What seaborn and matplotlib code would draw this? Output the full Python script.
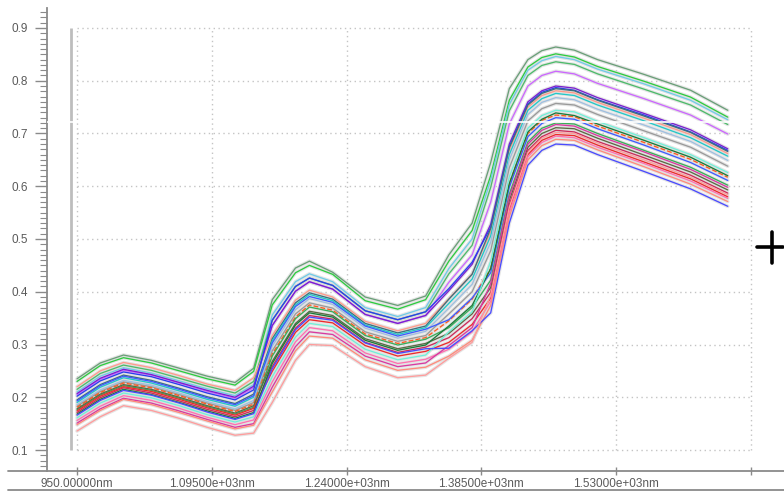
import matplotlib
matplotlib.use("Agg")
import matplotlib.pyplot as plt
import seaborn as sns
import pandas as pd
from matplotlib.lines import Line2D
from matplotlib.ticker import MultipleLocator, FixedLocator, FixedFormatter

# ---------------- data ----------------
wavelengths = [950, 975, 1000, 1030, 1060, 1090, 1120, 1140, 1160, 1185, 1200, 1225, 1260,
               1295, 1325, 1350, 1375, 1395, 1415, 1435, 1450, 1465, 1485, 1510, 1560, 1610, 1650]

s01 = [0.235, 0.265, 0.280, 0.270, 0.255, 0.240, 0.228, 0.255, 0.385, 0.445, 0.458, 0.437, 0.390, 0.374, 0.392, 0.470, 0.530, 0.645, 0.785, 0.840, 0.857, 0.864, 0.858, 0.840, 0.812, 0.782, 0.744]
s02 = [0.230, 0.260, 0.275, 0.265, 0.250, 0.235, 0.223, 0.249, 0.375, 0.436, 0.450, 0.433, 0.383, 0.367, 0.385, 0.458, 0.516, 0.620, 0.763, 0.826, 0.844, 0.851, 0.845, 0.827, 0.799, 0.769, 0.731]
s03 = [0.210, 0.240, 0.256, 0.246, 0.231, 0.216, 0.203, 0.224, 0.356, 0.419, 0.434, 0.419, 0.370, 0.353, 0.370, 0.444, 0.500, 0.612, 0.755, 0.820, 0.838, 0.846, 0.840, 0.822, 0.794, 0.763, 0.726]
s04 = [0.215, 0.245, 0.261, 0.251, 0.236, 0.221, 0.208, 0.230, 0.346, 0.410, 0.426, 0.412, 0.364, 0.347, 0.362, 0.434, 0.488, 0.598, 0.743, 0.810, 0.829, 0.836, 0.831, 0.813, 0.784, 0.754, 0.717]
s05 = [0.205, 0.234, 0.251, 0.242, 0.227, 0.211, 0.198, 0.218, 0.336, 0.401, 0.419, 0.405, 0.357, 0.340, 0.355, 0.418, 0.470, 0.570, 0.718, 0.790, 0.810, 0.818, 0.813, 0.795, 0.766, 0.735, 0.699]
s06 = [0.220, 0.250, 0.266, 0.256, 0.241, 0.225, 0.213, 0.237, 0.317, 0.384, 0.403, 0.390, 0.344, 0.326, 0.340, 0.387, 0.434, 0.514, 0.668, 0.750, 0.772, 0.781, 0.777, 0.759, 0.729, 0.698, 0.662]
s07 = [0.207, 0.236, 0.253, 0.243, 0.228, 0.213, 0.200, 0.221, 0.336, 0.401, 0.419, 0.405, 0.357, 0.340, 0.355, 0.402, 0.452, 0.528, 0.680, 0.760, 0.781, 0.790, 0.786, 0.768, 0.738, 0.707, 0.671]
s08 = [0.202, 0.231, 0.248, 0.239, 0.224, 0.208, 0.195, 0.214, 0.346, 0.410, 0.426, 0.412, 0.364, 0.347, 0.362, 0.406, 0.456, 0.522, 0.675, 0.756, 0.778, 0.787, 0.782, 0.764, 0.735, 0.703, 0.668]
s09 = [0.195, 0.224, 0.242, 0.232, 0.217, 0.201, 0.188, 0.206, 0.311, 0.379, 0.398, 0.386, 0.340, 0.322, 0.335, 0.386, 0.433, 0.520, 0.673, 0.754, 0.776, 0.785, 0.781, 0.763, 0.733, 0.702, 0.666]
s10 = [0.190, 0.219, 0.237, 0.227, 0.212, 0.196, 0.183, 0.200, 0.307, 0.375, 0.395, 0.383, 0.337, 0.319, 0.332, 0.378, 0.424, 0.506, 0.660, 0.744, 0.766, 0.776, 0.772, 0.754, 0.724, 0.692, 0.657]
s11 = [0.186, 0.214, 0.232, 0.223, 0.208, 0.192, 0.178, 0.194, 0.297, 0.366, 0.387, 0.376, 0.331, 0.312, 0.325, 0.369, 0.414, 0.494, 0.650, 0.736, 0.759, 0.768, 0.764, 0.746, 0.716, 0.685, 0.649]
s12 = [0.183, 0.211, 0.229, 0.220, 0.205, 0.189, 0.175, 0.190, 0.288, 0.358, 0.379, 0.369, 0.324, 0.306, 0.317, 0.358, 0.400, 0.478, 0.635, 0.724, 0.747, 0.757, 0.754, 0.736, 0.705, 0.674, 0.638]
s13 = [0.181, 0.209, 0.227, 0.218, 0.203, 0.187, 0.173, 0.187, 0.282, 0.352, 0.375, 0.365, 0.320, 0.302, 0.313, 0.345, 0.386, 0.444, 0.605, 0.700, 0.725, 0.735, 0.732, 0.714, 0.683, 0.651, 0.617]
s14 = [0.193, 0.222, 0.240, 0.230, 0.215, 0.199, 0.186, 0.203, 0.303, 0.372, 0.391, 0.380, 0.335, 0.316, 0.329, 0.347, 0.388, 0.436, 0.598, 0.694, 0.719, 0.730, 0.727, 0.709, 0.678, 0.645, 0.611]
s15 = [0.176, 0.204, 0.222, 0.213, 0.198, 0.182, 0.168, 0.181, 0.278, 0.349, 0.371, 0.362, 0.317, 0.299, 0.310, 0.332, 0.370, 0.422, 0.585, 0.684, 0.710, 0.720, 0.718, 0.700, 0.668, 0.636, 0.602]
s16 = [0.178, 0.206, 0.224, 0.215, 0.200, 0.184, 0.170, 0.184, 0.268, 0.340, 0.363, 0.355, 0.311, 0.292, 0.302, 0.321, 0.358, 0.408, 0.573, 0.674, 0.700, 0.711, 0.709, 0.691, 0.659, 0.627, 0.593]
s17 = [0.171, 0.199, 0.218, 0.208, 0.193, 0.177, 0.163, 0.175, 0.258, 0.331, 0.355, 0.348, 0.304, 0.285, 0.295, 0.313, 0.349, 0.399, 0.565, 0.668, 0.694, 0.706, 0.703, 0.685, 0.654, 0.621, 0.587]
s18 = [0.174, 0.202, 0.220, 0.211, 0.196, 0.180, 0.166, 0.179, 0.249, 0.323, 0.347, 0.341, 0.298, 0.278, 0.287, 0.304, 0.338, 0.388, 0.555, 0.660, 0.687, 0.698, 0.696, 0.678, 0.646, 0.614, 0.580]
s19 = [0.168, 0.196, 0.215, 0.205, 0.190, 0.174, 0.160, 0.171, 0.264, 0.337, 0.360, 0.352, 0.308, 0.289, 0.299, 0.335, 0.374, 0.444, 0.605, 0.703, 0.727, 0.739, 0.734, 0.718, 0.687, 0.655, 0.620]
s20 = [0.156, 0.183, 0.203, 0.194, 0.179, 0.162, 0.148, 0.157, 0.229, 0.305, 0.332, 0.326, 0.284, 0.264, 0.272, 0.291, 0.324, 0.382, 0.550, 0.656, 0.683, 0.695, 0.692, 0.674, 0.643, 0.610, 0.577]
s21 = [0.161, 0.189, 0.208, 0.199, 0.184, 0.167, 0.153, 0.163, 0.239, 0.314, 0.340, 0.334, 0.291, 0.271, 0.280, 0.324, 0.362, 0.458, 0.618, 0.710, 0.734, 0.744, 0.741, 0.723, 0.692, 0.660, 0.626]
s22 = [0.151, 0.178, 0.198, 0.189, 0.174, 0.158, 0.143, 0.150, 0.219, 0.296, 0.324, 0.319, 0.278, 0.258, 0.265, 0.298, 0.332, 0.416, 0.580, 0.680, 0.706, 0.717, 0.714, 0.696, 0.665, 0.632, 0.598]
s23 = [0.148, 0.175, 0.196, 0.186, 0.171, 0.155, 0.140, 0.147, 0.210, 0.288, 0.316, 0.312, 0.271, 0.251, 0.257, 0.278, 0.308, 0.374, 0.542, 0.650, 0.677, 0.689, 0.687, 0.669, 0.637, 0.604, 0.571]
s24 = [0.166, 0.194, 0.213, 0.204, 0.189, 0.172, 0.158, 0.169, 0.254, 0.328, 0.352, 0.346, 0.303, 0.283, 0.292, 0.293, 0.326, 0.360, 0.530, 0.640, 0.668, 0.680, 0.678, 0.660, 0.628, 0.595, 0.562]
s25 = [0.136, 0.163, 0.184, 0.175, 0.160, 0.143, 0.128, 0.132, 0.190, 0.270, 0.300, 0.298, 0.258, 0.237, 0.242, 0.274, 0.304, 0.394, 0.560, 0.664, 0.691, 0.702, 0.700, 0.682, 0.650, 0.617, 0.584]

spectra = [s01, s02, s03, s04, s05, s06, s07, s08, s09, s10, s11, s12, s13,
           s14, s15, s16, s17, s18, s19, s20, s21, s22, s23, s24, s25]
curve_colors = ["#6a9f78", "#2ecc40", "#6fcbe8", "#4dbb6a", "#cc66ff", "#ff9a8a",
                "#7a1fd0", "#2a3cf0", "#3f6f7a", "#22c8c8", "#9fbfe0", "#9a9a9a",
                "#ff5a1f", "#3d5cff", "#3aad5a", "#5c6a45", "#cc2a5a", "#ee2a2a",
                "#1a7a3a", "#ff70b0", "#70f0d8", "#d83aa0", "#ff8a7a", "#4a4aff",
                "#ff9c9c"]
dashed_curves = [12]

x_ticks = [950, 1095, 1240, 1385, 1530, 1675]
x_tick_labels = ["950.00000nm", "1.09500e+03nm", "1.24000e+03nm",
                 "1.38500e+03nm", "1.53000e+03nm", ""]
y_ticks = [0.1, 0.2, 0.3, 0.4, 0.5, 0.6, 0.7, 0.8, 0.9]
y_tick_labels = ["0.1", "0.2", "0.3", "0.4", "0.5", "0.6", "0.7", "0.8", "0.9"]

# ---------------- style ----------------
sns.set_theme(style="white")
plt.rcParams['font.family'] = ['Liberation Sans', 'DejaVu Sans']

W, H = 784, 491
fig = plt.figure(figsize=(W / 100, H / 100), dpi=100)
fig.patch.set_facecolor("white")
ax = fig.add_axes([47 / W, 20 / H, (W - 47) / W, 463 / H])
ax.set_facecolor("white")

AX_COL = "#8a8a8a"
TXT_COL = "#5a5a5a"
GRID_COL = "#c4c4c4"

# dotted grid confined to the tick box
ax.hlines(y_ticks, x_ticks[0], x_ticks[-1], colors=GRID_COL,
          linestyles=(0, (1, 2.5)), linewidth=1.0, zorder=0)
ax.vlines(x_ticks, y_ticks[0], y_ticks[-1], colors=GRID_COL,
          linestyles=(0, (1, 2.5)), linewidth=1.0, zorder=0)

# gray marker line at the left of the data
ax.vlines([943.5], y_ticks[0], y_ticks[-1], colors="#bdbdbd", linewidth=2.0, zorder=1)

# spectra
for i, vals in enumerate(spectra):
    df = pd.DataFrame({"wl": wavelengths, "val": vals})
    sns.lineplot(data=df, x="wl", y="val", ax=ax, color="#dadada", linewidth=2.6,
                 estimator=None, sort=False, zorder=2, alpha=0.7)
    sns.lineplot(data=df, x="wl", y="val", ax=ax, color=curve_colors[i],
                 linewidth=0.95, estimator=None, sort=False, zorder=3,
                 linestyle="--" if i in dashed_curves else "-")

# white cursor line
ax.axhline(0.722, color="white", linewidth=1.2, zorder=4)

ax.set_xlim(917.7, 1710.5)
ax.set_ylim(0.0602, 0.9379)
ax.set_xlabel("")
ax.set_ylabel("")

for side in ["top", "right"]:
    ax.spines[side].set_visible(False)
for side in ["left", "bottom"]:
    ax.spines[side].set_color(AX_COL)
    ax.spines[side].set_linewidth(1.3)

ax.xaxis.set_major_locator(FixedLocator(x_ticks))
ax.xaxis.set_major_formatter(FixedFormatter(x_tick_labels))
ax.yaxis.set_major_locator(FixedLocator(y_ticks))
ax.yaxis.set_major_formatter(FixedFormatter(y_tick_labels))
ax.yaxis.set_minor_locator(MultipleLocator(0.01))

ax.tick_params(axis="x", which="major", direction="inout", length=6, width=1,
               color=AX_COL, labelcolor=TXT_COL, labelsize=8.5, pad=2, bottom=True)
ax.tick_params(axis="y", which="major", direction="out", length=9, width=1,
               color=AX_COL, labelcolor=TXT_COL, labelsize=8.5, pad=5, left=True)
ax.tick_params(axis="y", which="minor", direction="out", length=5, width=0.8,
               color=AX_COL, left=True)

# axis line extension to the left and bottom border line
fig.add_artist(Line2D([8 / W, 47 / W], [20 / H, 20 / H], transform=fig.transFigure,
                      color=AX_COL, linewidth=1.3))
fig.add_artist(Line2D([8 / W, 1.0], [1.5 / H, 1.5 / H], transform=fig.transFigure,
                      color=AX_COL, linewidth=1.3))

# cursor cross on the right
cy = (H - 247) / H
fig.add_artist(Line2D([757 / W, 783 / W], [cy, cy], transform=fig.transFigure,
                      color="black", linewidth=2.6))
fig.add_artist(Line2D([772 / W, 772 / W], [(H - 232) / H, (H - 263) / H],
                      transform=fig.transFigure, color="black", linewidth=2.6))

fig.savefig("out.png", dpi=100, facecolor="white")
